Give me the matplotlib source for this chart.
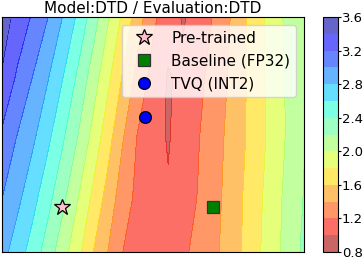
import matplotlib
matplotlib.use("Agg")
import matplotlib.pyplot as plt

# loss landscape grid, rows go bottom -> top
x_coords = [-0.4, -0.3, -0.2, -0.1, 0.0, 0.1, 0.2, 0.3, 0.4, 0.5, 0.6,
            0.7, 0.8, 0.9, 1.0, 1.1, 1.2, 1.3, 1.4, 1.5, 1.6]
y_coords = [-0.3, 0.05, 0.45, 0.85, 1.25]

loss_row_m030 = [2.87, 2.70, 2.52, 2.31, 2.09, 1.86, 1.61, 1.40, 1.20, 1.14, 1.08,
                 1.10, 1.17, 1.25, 1.35, 1.48, 1.62, 1.78, 1.93, 2.09, 2.24]
loss_row_005 = [3.00, 2.85, 2.67, 2.47, 2.25, 2.01, 1.76, 1.52, 1.29, 1.15, 1.06,
                1.02, 1.11, 1.21, 1.33, 1.46, 1.61, 1.76, 1.92, 2.07, 2.21]
loss_row_045 = [3.16, 2.99, 2.84, 2.65, 2.43, 2.20, 1.94, 1.68, 1.41, 1.18, 1.08,
                0.985, 1.09, 1.19, 1.31, 1.44, 1.58, 1.73, 1.88, 2.04, 2.19]
loss_row_085 = [3.38, 3.17, 3.00, 2.82, 2.61, 2.37, 2.11, 1.85, 1.58, 1.33, 1.13,
                0.98, 1.05, 1.15, 1.27, 1.41, 1.57, 1.74, 1.89, 2.04, 2.19]
loss_row_125 = [3.50, 3.34, 3.18, 3.01, 2.80, 2.57, 2.31, 2.03, 1.76, 1.49, 1.24,
                1.10, 0.98, 1.09, 1.21, 1.38, 1.56, 1.74, 1.91, 2.06, 2.20]

# model positions in the same plane
pretrained_xy = (0.0, 0.0)
baseline_xy = (1.0, 0.0)
tvq_xy = (0.55, 0.59)

levels = [0.8, 1.0, 1.2, 1.4, 1.6, 1.8, 2.0, 2.2, 2.4, 2.6, 2.8, 3.0, 3.2, 3.4, 3.6]
cbar_ticks = [0.8, 1.2, 1.6, 2.0, 2.4, 2.8, 3.2, 3.6]


def main():
    plt.rcParams['font.size'] = 11
    fig = plt.figure(figsize=(3.63, 2.61), dpi=100)
    ax = fig.add_axes([2 / 363, 9 / 261, 302 / 363, 235 / 261])
    cax = fig.add_axes([322.5 / 363, 9 / 261, 15.5 / 363, 235 / 261])

    z = [loss_row_m030, loss_row_005, loss_row_045, loss_row_085, loss_row_125]
    cs = ax.contourf(x_coords, y_coords, z, levels=levels, cmap='jet_r', alpha=0.6)

    ax.plot(*pretrained_xy, linestyle='none', marker='*', ms=12,
            mfc='pink', mec='black', mew=0.9, label='Pre-trained')
    ax.plot(*baseline_xy, linestyle='none', marker='s', ms=8.5,
            mfc='green', mec='#333333', mew=0.9, label='Baseline (FP32)')
    ax.plot(*tvq_xy, linestyle='none', marker='o', ms=8.5,
            mfc='blue', mec='black', mew=0.9, label='TVQ (INT2)')

    ax.set_xticks([])
    ax.set_yticks([])
    ax.set_title('Model:DTD / Evaluation:DTD', fontsize=11, pad=3)
    ax.legend(loc='upper right', fontsize=11)

    cb = fig.colorbar(cs, cax=cax, ticks=cbar_ticks)
    cb.ax.tick_params(labelsize=9.5, length=2.4, pad=0.5)

    fig.savefig('out.png', dpi=100)


if __name__ == "__main__":
    main()
